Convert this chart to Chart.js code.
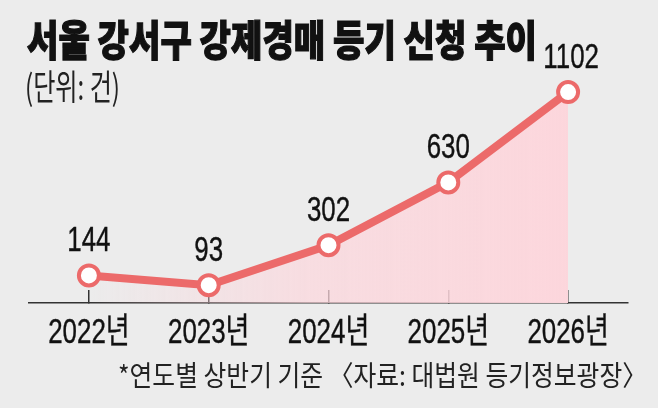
<!DOCTYPE html>
<html>
<head>
<meta charset="utf-8">
<script src="https://cdn.jsdelivr.net/npm/chart.js@4.4.1/dist/chart.umd.min.js"></script>
<style>
  html, body { margin: 0; padding: 0; background: #ececec; }
  #wrap { position: relative; width: 658px; height: 408px; overflow: hidden; background: #ececec; }
  #c { position: absolute; left: 0; top: 0; }
  .txt { position: absolute; white-space: nowrap; transform-origin: 0 0; color: #111; line-height: 1; font-family: 'Noto Sans CJK KR', sans-serif; }
  #title { left: 27px; top: 17px; font-size: 42px; font-weight: 900; -webkit-text-stroke: 1.2px #111; }
  #sub { left: 25px; top: 67px; font-size: 35px; font-weight: 400; color: #222; }
  #foot { left: 118px; top: 360px; font-size: 28px; font-weight: 400; color: #222; }
</style>
</head>
<body>
<div id="wrap">
  <canvas id="c" width="658" height="408"></canvas>
  <div class="txt" id="title" data-w="510">서울 강서구 강제경매 등기 신청 추이</div>
  <div class="txt" id="sub" data-w="95">(단위: 건)</div>
  <div class="txt" id="foot" data-w="529">*연도별 상반기 기준 〈자료: 대법원 등기정보광장〉</div>
</div>
<script>
const years = ['2022년', '2023년', '2024년', '2025년', '2026년'];
const counts = [144, 93, 302, 630, 1102];
const valueLabels = ['144', '93', '302', '630', '1102'];

// fit HTML texts horizontally (condensed look)
document.querySelectorAll('.txt').forEach(el => {
  const target = parseFloat(el.dataset.w);
  const w = el.getBoundingClientRect().width;
  if (w > 0) el.style.transform = 'scaleX(' + (target / w) + ')';
});

const LINE = '#ec6a6a';
const NUMFONT = "'Liberation Sans', 'Noto Sans CJK KR', sans-serif";
const SQUEEZE = 0.74;

function condensedText(ctx, text, x, y) {
  ctx.save();
  ctx.translate(x, y);
  ctx.scale(SQUEEZE, 1);
  ctx.fillText(text, 0, 0);
  ctx.strokeText(text, 0, 0);
  ctx.restore();
}

const condensedLabelsPlugin = {
  id: 'condensedLabels',
  afterDatasetsDraw(chart) {
    const ctx = chart.ctx;
    const meta = chart.getDatasetMeta(0);
    ctx.save();
    ctx.font = '35px ' + NUMFONT;
    ctx.fillStyle = '#111';
    ctx.strokeStyle = '#111';
    ctx.lineWidth = 0.4;
    ctx.textAlign = 'center';
    ctx.textBaseline = 'alphabetic';
    // value labels above points
    meta.data.forEach((pt, i) => {
      condensedText(ctx, valueLabels[i], pt.x + (i === 4 ? 3 : 0), pt.y - 24);
    });
    // x-axis category labels, positioned by the x scale
    const xs = chart.scales.x;
    xs.ticks.forEach((t, i) => {
      const label = xs.getLabelForValue(t.value);
      condensedText(ctx, label, xs.getPixelForTick(i), xs.top + 40);
    });
    ctx.restore();
  }
};

new Chart(document.getElementById('c'), {
  type: 'line',
  data: {
    labels: years,
    datasets: [{
      data: counts,
      borderColor: LINE,
      borderWidth: 8,
      tension: 0,
      pointRadius: 10,
      pointBorderWidth: 4,
      pointBackgroundColor: '#ffffff',
      pointBorderColor: LINE,
      fill: 'origin',
      backgroundColor: (c) => {
        const ch = c.chart;
        const area = ch.chartArea;
        if (!area) return 'rgba(250,210,215,0.6)';
        const xs = ch.scales.x;
        const x0 = xs.getPixelForValue(0);
        const x1 = xs.getPixelForValue(4);
        const g = ch.ctx.createLinearGradient(x0, 0, x1, 0);
        g.addColorStop(0, 'rgba(252,214,220,0)');
        g.addColorStop(0.45, 'rgba(252,214,220,0.7)');
        g.addColorStop(1, 'rgba(252,214,220,1)');
        return g;
      }
    }]
  },
  options: {
    responsive: false,
    animation: false,
    layout: { padding: { left: 29, right: 30, top: 35, bottom: 37 } },
    plugins: { legend: { display: false }, tooltip: { enabled: false }, title: { display: false } },
    scales: {
      y: { display: false, min: 0, max: 1400 },
      x: {
        offset: true,
        border: { display: true, color: '#333', width: 1.5 },
        grid: { display: true, drawOnChartArea: false, drawTicks: true, tickLength: -13, color: '#333', lineWidth: 1.5 },
        ticks: { color: 'rgba(0,0,0,0)', padding: 24, font: { size: 33, family: NUMFONT, lineHeight: 1 } }
      }
    }
  },
  plugins: [condensedLabelsPlugin]
});
</script>
</body>
</html>
